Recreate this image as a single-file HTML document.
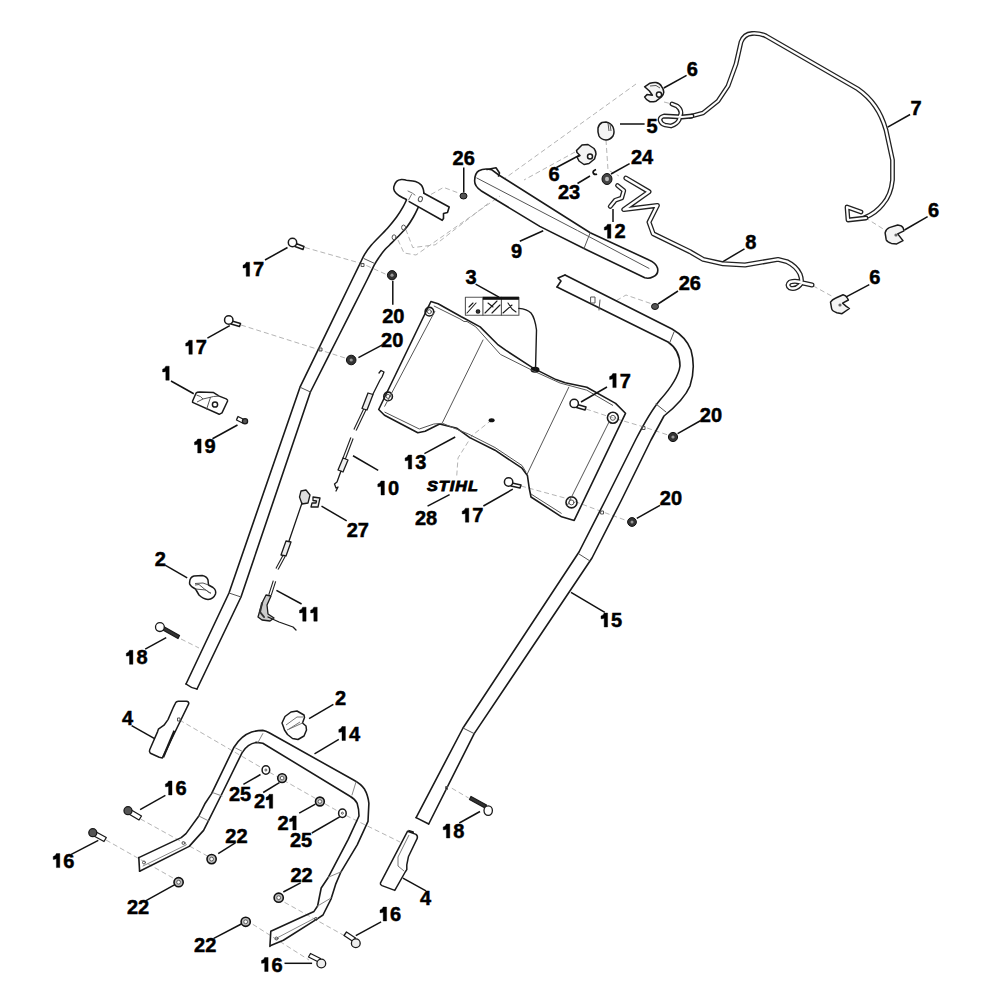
<!DOCTYPE html>
<html><head><meta charset="utf-8"><style>
html,body{margin:0;padding:0;background:#fff;width:1000px;height:1000px;overflow:hidden}
svg{position:absolute;left:0;top:0}
text{font-family:"Liberation Sans",sans-serif;font-weight:bold;font-size:20px;fill:#000;stroke:#000;stroke-width:0.5}
.l{stroke:#1a1a1a;stroke-width:1.6;fill:none;stroke-linecap:round;stroke-linejoin:round}
.t{stroke:#555;stroke-width:1;fill:none}
.ld{stroke:#111;stroke-width:1.5;fill:none}
.d{stroke:#b5b5b5;stroke-width:1;fill:none;stroke-dasharray:5 3}
.f{stroke:#1a1a1a;stroke-width:1.5;fill:#fff;stroke-linejoin:round}
.n{fill:#333;stroke:#111;stroke-width:1}
</style></head><body>
<svg width="1000" height="1000" viewBox="0 0 1000 1000">
<!-- DASHED PHANTOM LINES -->
<g id="dash" class="d">
<path d="M305 247.5L362.5 263.75L387.5 275"/>
<path d="M241 325L320 350L347.5 358.75"/>
<path d="M246 422L236 418"/>
<path d="M658 306L626 295L614 302"/>
<path d="M586 409L610 417L644 427L668 435"/>
<path d="M521 486L567 498.6L600.8 511.2L631.6 522.4"/>
<path d="M181 639L199 648"/>
<path d="M179.5 720L262 768L342 813.5L400 842"/>
<path d="M140.5 819L211 858"/>
<path d="M106 840L180 882"/>
<path d="M246 920L309 960"/>
<path d="M277.5 898.4L345 936"/>
<path d="M451.8 788.2L468.6 798"/>
<path d="M865 217.5L888 232"/>
<path d="M813 285.8L833 296.8"/>
<path d="M664 102L672 104"/>
<path d="M491.6 420L472 435.6L458 458L456.6 477.6"/>
<path d="M636 84L504.8 178.4"/>
<path d="M575 152L524 180"/>
<path d="M606 140L608 170L619 176"/>
<path d="M431 194.4L443.6 187.4L460.4 193.7"/>
<path d="M405.8 229.4L412.8 247.6L435.2 244.8L490 202"/>
<path d="M398 240L404 253L416 255L500 196"/>

</g>
<!-- LEFT HANDLE -->
<g class="l">
<path d="M406.4 199.5C405.1 198.8 400.7 196.7 398.7 195.3C396.7 193.9 395.3 192.5 394.5 191.1C393.7 189.7 393.4 188.5 393.8 186.9C394.2 185.3 395.3 182.5 396.6 181.3C397.9 180.1 399.9 179.7 401.5 179.5C403.1 179.3 404.1 179.8 406.4 180.2C408.7 180.5 413.1 180.8 415.5 181.6C417.9 182.4 419.8 183.6 421.1 184.8C422.4 186.0 422.7 187.6 423.2 189.0C423.7 190.4 423.8 192.5 423.9 193.2"/>
<path d="M423.9 193.2L449.2 207L447.5 212.5L443.5 213.5L443.5 218.5L442.2 220.3L409.2 201.6"/>
<path d="M408 191Q413 193 415 195M411.5 194.5L408.6 200" class="t" style="stroke:#777"/>
<path d="M406.4 200.2C405.8 201.4 404.5 204.4 402.9 207.2C401.3 210.0 399.2 213.5 396.6 217.0C394.0 220.5 391.7 223.5 387.5 228.2C383.3 232.9 375.2 240.6 371.4 245.0C367.6 249.4 366.5 251.2 364.6 254.4C362.7 257.6 361.9 259.7 359.8 264.0C357.7 268.3 357.6 268.4 352.0 280.0C346.4 291.6 334.7 315.7 326.0 333.6C317.3 351.5 304.3 378.3 300.0 387.2L229 593L186 684"/>
<path d="M418.3 207.2C417.5 208.8 415.3 213.7 413.4 217.0C411.5 220.3 409.4 223.8 407.1 226.8C404.8 229.8 402.3 232.2 399.4 235.2C396.5 238.2 392.0 242.6 389.6 245.0C387.2 247.4 386.8 247.5 385.0 249.6C383.2 251.7 380.8 254.8 379.0 257.4C377.2 260.0 376.2 261.4 374.2 265.2C372.2 269.0 372.9 268.2 367.0 280.0C361.1 291.8 348.1 317.3 338.7 336.0C329.3 354.7 315.1 382.7 310.4 392.0L241 597L197 689"/>
<path d="M186 684Q191 688 197 689"/>
<path d="M364 258.6L374.5 263.4M300 387.2L310.4 392M229 593L241 597" class="t"/>
<ellipse cx="420.4" cy="199.1" rx="2" ry="2.6" class="t" transform="rotate(20 420.4 199.1)"/>
<ellipse cx="403.6" cy="227.5" rx="2" ry="2.5" class="t"/>
<ellipse cx="394.1" cy="237.3" rx="2" ry="2.5" class="t"/>
<rect x="361.5" y="263.5" width="2.5" height="3" class="t"/>
<rect x="319.5" y="348" width="2.5" height="3" class="t"/>
</g>
<!-- RIGHT HANDLE 15 -->
<g class="l">
<path d="M565 275L558 278L561 281L557 287"/>
<path d="M565 275L672 329Q686 337 691 350Q696 368 690 386Q684 400 664 416L651 440L621.5 500L592 558L474.2 733.6L428.7 824"/>
<path d="M557 287L668 342Q680 350 680 366Q678 380 660 400Q650 412 635.5 440L605.5 500L579 552L463 728L416.1 817.6"/>
<path d="M416.1 817.6L428.7 824"/>
<path d="M600 300L599 310M674 332L670 342M656 404L666 412M579 554L590 561M463 728L474.2 733.6" class="t"/><rect x="601" y="511" width="2.5" height="3" class="t"/><rect x="642.5" y="426.5" width="2.5" height="3" class="t"/><rect x="446" y="786.5" width="1.5" height="3" class="t"/>
<rect x="591" y="297" width="4" height="6" class="t"/>
</g>
<!-- CROSSBAR 9 -->
<g class="l">
<path d="M478.9 170.75Q484 168 491.5 169.7L498.8 175L590.2 232.7L649 260Q656 263 657.5 268Q659 274 653.2 276.8Q649 279 644.8 277.8L586 249.5L539.8 226.4L481 190.7Q474 186 474.7 180Q475 173 478.9 170.75Z"/>
<path d="M476.8 178L577.6 230.6L649 268.4M590.2 232.7L584 248.5" class="t"/>
<path d="M487 169.5L496 167.8L499.5 173L498.5 176"/>
</g>
<!-- WIRE 7 -->
<g style="fill:none;stroke-linecap:round;stroke-linejoin:round">
<path id="w7" d="M690 116.5L703 113L718 101L728 86L736 64L741 42Q744 34 752 33.5Q760 33 766 36L857.5 88.75Q868 96 875 106Q882 116 886 130L892.5 160L892.5 180Q891 195 883 204Q876 213 865 217.5" stroke="#222" stroke-width="4.8"/>
<path d="M690 116.5L703 113L718 101L728 86L736 64L741 42Q744 34 752 33.5Q760 33 766 36L857.5 88.75Q868 96 875 106Q882 116 886 130L892.5 160L892.5 180Q891 195 883 204Q876 213 865 217.5" stroke="#fff" stroke-width="2.2"/>
<path d="M866 218L848 220L847 207L861 212" stroke="#222" stroke-width="4.8"/>
<path d="M866 218L848 220L847 207L861 212" stroke="#fff" stroke-width="2.2"/>
<path d="M692 116L682 117L664 116Q660 117 660 120Q661 124 665 125L671 126Q677 124 679 120L681 113Q681 109 677 106L672 104" stroke="#222" stroke-width="4.8"/>
<path d="M692 116L682 117L664 116Q660 117 660 120Q661 124 665 125L671 126Q677 124 679 120L681 113Q681 109 677 106L672 104" stroke="#fff" stroke-width="2.2"/>
</g>
<!-- WIRE 8 -->
<g style="fill:none;stroke-linecap:round;stroke-linejoin:round">
<path d="M625.9 178.1L649 191.75L623.8 209.6L657.4 205.4L649 222.2L653.2 233.75L690 251.7L703.2 259.4L723 263.8L745 265L778 259.4L786.8 261.6Q796 266 800 274Q803 282 800 285Q795 290 790 288Q786 285 790 282Q796 280 803 283L812 285" stroke="#222" stroke-width="5"/>
<path d="M625.9 178.1L649 191.75L623.8 209.6L657.4 205.4L649 222.2L653.2 233.75L690 251.7L703.2 259.4L723 263.8L745 265L778 259.4L786.8 261.6Q796 266 800 274Q803 282 800 285Q795 290 790 288Q786 285 790 282Q796 280 803 283L812 285" stroke="#fff" stroke-width="2.4"/>
<path d="M617.5 185.5L623.8 190.7L621.7 198L615.4 200.15L610.2 206.45" stroke="#222" stroke-width="4.8"/>
<path d="M617.5 185.5L623.8 190.7L621.7 198L615.4 200.15L610.2 206.45" stroke="#fff" stroke-width="2.2"/>
</g>
<!-- SMALL PARTS TOP -->
<g class="f">
<path d="M644.6 86.8L650 83.2Q653 82.4 656 82.6Q660 83.5 661.4 86.2Q663.8 89 663.8 92.2Q663.5 95 661.4 97L656 101.2Q653 102 650 101.8Q646 100 644.6 97L647 94.6L652.4 95.2L649.4 91Z" fill="#f4f4f4"/>
<circle cx="659" cy="94.6" r="2.6"/><path d="M650 86L656 85.5L660 88" class="t"/>
<path d="M598 128Q599 124 602 122.5L606 122Q611 123 613 127Q615 132 613 136Q610 140 606 140Q601 139.5 599 136Q597.5 132 598 128Z" fill="#f4f4f4"/><path d="M608 123L609 131M610 124L611 131" class="t"/>
<path d="M576.5 150.5L582 145L588 144.5L594 148.5Q596 151 596 154L594.5 159L589 163.5L584 164.5L579 161L577 157L580 155.5L577 152.5Z" fill="#f4f4f4"/>
<circle cx="590" cy="156.5" r="2.5"/>
<path d="M885.1 232.9Q886 229 889.3 227.6L897.7 225Q902 225.5 903 227.6L904 230.8L897.7 233.9L901.4 238.6L903 240.7L896.7 243.9L891.4 243.4Q887 242 886.2 239.7Z" fill="#f4f4f4"/><circle cx="896" cy="235" r="1.6" fill="#666" stroke="none"/>
<path d="M830.5 302.2Q832 299.5 835.8 298L843.1 294.8Q846 295.5 847.3 298L848.4 300L842.6 303.2L846.3 306.4L849.4 308.5L842 313.7L836.8 312.7Q832 311 831.6 308.5Z" fill="#f4f4f4"/><circle cx="840" cy="305" r="1.6" fill="#666" stroke="none"/>
</g>
<ellipse cx="607" cy="179" rx="5" ry="5.5" fill="#444" stroke="#111" stroke-width="1"/>
<ellipse cx="607" cy="179" rx="2" ry="2.3" fill="#bbb"/>
<path d="M596 169.5Q592 171 593.5 173.5Q595 175 597 174" stroke="#111" stroke-width="1.8" fill="none"/>
<ellipse cx="463.5" cy="196" rx="3.5" ry="3" fill="#555" stroke="#111"/>
<ellipse cx="655" cy="306.5" rx="3.5" ry="3" fill="#555" stroke="#111"/>
<!-- PANEL 13 -->
<g class="l">
<path d="M430.9 301.5L438.1 303.7L461.3 316.7L464.2 318.2L480.1 326.9L497.5 344.3L505.6 350.2L533.6 368.4L556 379.6L565.2 382.7L586.8 387.2L615.6 403.4L625.5 413.3L574.2 520.4L561.6 516.8L531 497L529.2 488L527.4 475.4L522 468.2L495 450.2L469.8 437.6L457 428.3L439.6 424L425.1 431.2L417.8 432.7L384.5 415.3L378.7 409.5Z"/>
<path d="M483 340L442.5 422.5M568.8 387.2L527.4 473.6" class="t"/>
<circle cx="429.4" cy="311.7" r="4.3"/><circle cx="388.1" cy="396.4" r="4.3"/><circle cx="612.9" cy="417.8" r="5.5"/><circle cx="571.5" cy="502.4" r="5.5"/><circle cx="429.4" cy="311.7" r="2" class="t"/><circle cx="388.1" cy="396.4" r="2" class="t"/><circle cx="612.9" cy="417.8" r="2.5" class="t"/><circle cx="571.5" cy="502.4" r="2.5" class="t"/>
</g>
<ellipse cx="491.6" cy="420.2" rx="3" ry="2" fill="#111"/>
<ellipse cx="535" cy="369.8" rx="4.5" ry="3" fill="#111"/>
<!-- decal 3 -->
<g class="l" style="stroke-width:1.1">
<rect x="465.4" y="297.2" width="53.5" height="18" fill="#fff" stroke="#555"/>
<path d="M482.9 297.2V315.2M501.4 297.2V315.2" stroke="#555"/>
<rect x="482.9" y="296.8" width="36" height="3" fill="#111" stroke="none"/>
<path d="M467 313L476 303M469 307L473 303M485 313L497 301M492 313L500 305M488 303L493 307M503 313L512 305M508 303L512 309L516 312"/>
<circle cx="478" cy="311.5" r="1.8" fill="#333"/>
</g>
<path d="M518.9 308.4Q527 309 531 313Q535 318 536.5 330L535.5 370" class="l" style="stroke-width:1.4"/>
<!-- panel inset lines -->
<g class="t" style="stroke:#555">
<path d="M435 311L384.5 406.6"/>
<path d="M384.5 412L419.3 429L433.8 424L442.5 423.3L468.6 434.1L495 447.5L522 465.5L526 472"/>
<path d="M531 494L561.6 513.5"/>
<path d="M433.8 305.9L459.9 318.9L464 321.5L467 321.5L475.8 326.9L500.4 354.4L533.6 371L560 383L586.8 390.2L613 405.5"/>
<path d="M609.3 421.4L567 506"/>
</g>
<!-- HANDLE 14 -->
<g class="l">
<path d="M138.8 857.6L181.2 837.6L186 833.6L198.8 816L205.2 803.2L211.6 793.6L234 747.2Q238 741 242 737.6Q246 734 251.6 732Q257 730.4 262.8 730.4Q266 731 269.2 732.8L353.6 780Q361 784 364.4 789Q368 795 368.9 803.4L368 821.4L357.2 844.8L341 871.8L335.6 884.4L331.1 898.8L323 915L317.6 918.6L283.4 940.2L270.8 945.6"/>
<path d="M139.6 871.2L189.2 846.4L203.6 830.4L208.4 820.8L222.8 792L242 752.8Q245 748 248.4 745.6Q252 743 256.4 742.4L262.8 743.2L350 796.2Q355 799 357.2 803.4Q359 809 359 816L348.2 839.4L328.4 877.2L321.2 888L317.6 906L314 911.4L270.8 931.2L269.9 946.5"/>
<path d="M138.8 857.6L139.6 871.2"/>
<path d="M213.2 792.8L222 796M198.8 816L208.4 820.8M235.6 748L242 751.2M262.8 733.6L258 742.4M352 795L356 782M341 871.8L328.4 877.2M331 898L317.6 906M143 866L186 845M275 939L315 918" class="t" style="stroke:#888"/>
<circle cx="144" cy="862.5" r="1.5" class="t"/><circle cx="183.5" cy="843" r="1.5" class="t"/>
<circle cx="276.5" cy="938.5" r="1.5" class="t"/><circle cx="316" cy="919" r="1.5" class="t"/>
</g>
<!-- PART 4s -->
<g class="f">
<path d="M175.2 703.6Q176 701.2 178.4 701.2L186.4 701.2Q189 701.5 188.8 703.6L162.4 758L159.2 757.2L150.4 753.2Q149 751.5 149.6 750L157.6 731.6L158.4 729.2L164 725.2L168 719.6L173.6 706.8Z"/>
<path d="M174.4 730.8L163.2 757.2" stroke-width="2.2"/>
<rect x="177.5" y="718" width="2.5" height="3" class="t"/>
<path d="M408.4 830.4L413.2 832L413.2 834M416 834.4Q418 836 417.2 838.4L408.4 856.8L406.8 864.8L406.8 869.6L405.2 872L394.8 890.4L382 885.6Q380 884.5 380.4 883.2L407.6 831.2Z"/>
<path d="M409 835L398 857L398 866L404 871" class="t" style="stroke:#777"/>
</g>
<!-- BOLTS 17 -->
<g class="f">
<path d="M296 243.5L304 246.5L303 249.5L295 246.5Z"/><circle cx="292.5" cy="242.5" r="4.2"/>
<path d="M232 321L240.5 323.5L239.5 326.5L231 324Z"/><circle cx="228.75" cy="320" r="4.2"/>
<path d="M577.5 404.5L586 407L585 410L576.5 407.5Z"/><circle cx="574.2" cy="403.4" r="4.2"/>
<path d="M512 483L521 485L520 488L511 486Z"/><circle cx="508.6" cy="482" r="4.2"/>
</g>
<!-- NUTS 20 (dark) -->
<g class="n">
<circle cx="392" cy="275.2" r="4.6"/><circle cx="351.2" cy="360" r="4.8"/><circle cx="673" cy="437" r="4.6"/><circle cx="632" cy="522" r="4.4"/>
</g>
<g fill="#999">
<circle cx="392" cy="275.2" r="1.6"/><circle cx="351.2" cy="360" r="1.6"/><circle cx="673" cy="437" r="1.6"/><circle cx="632" cy="522" r="1.5"/>
</g>
<!-- NUTS 21/22 -->
<g fill="#bbb" stroke="#111" stroke-width="1.6">
<circle cx="282.1" cy="778.1" r="4.4"/><circle cx="319.9" cy="801.5" r="4.4"/>
<circle cx="211.6" cy="859.1" r="4.6"/><circle cx="178.6" cy="882.2" r="4.6"/><circle cx="278.7" cy="897.7" r="4.6"/><circle cx="245.7" cy="921.8" r="4.6"/>
</g>
<g fill="#fff" stroke="#444" stroke-width="0.8">
<circle cx="282.1" cy="778.1" r="1.8"/><circle cx="319.9" cy="801.5" r="1.8"/>
<circle cx="211.6" cy="859.1" r="1.9"/><circle cx="178.6" cy="882.2" r="1.9"/><circle cx="278.7" cy="897.7" r="1.9"/><circle cx="245.7" cy="921.8" r="1.9"/>
</g>
<g class="f">
<ellipse cx="265.9" cy="770" rx="3.8" ry="4.2"/><ellipse cx="342.4" cy="813.2" rx="3.8" ry="4.2"/>
<circle cx="265.9" cy="770" r="1" class="t"/><circle cx="342.4" cy="813.2" r="1" class="t"/>
</g>
<!-- BOLTS 16 / 18 / 19 -->
<g class="f" style="stroke-width:1.3">
<path d="M130.5 809.5L141.5 816L139 820L128 813.5Z"/><circle cx="128" cy="810.7" r="4" fill="#555"/>
<path d="M95.3 831.5L106.3 837.5L104 841.5L93 835.5Z"/><circle cx="92.8" cy="832.7" r="4" fill="#555"/>
<path d="M353 941.5L344 935.5L346.5 932L355.5 938Z"/><circle cx="355.8" cy="943.2" r="4.4" fill="#eee"/>
<path d="M318.5 962L308.5 957L310.5 953.5L320.5 958.5Z"/><circle cx="321.3" cy="963.5" r="4.4" fill="#eee"/>
<path d="M163.5 626.5L179.5 635.5L178 638.5L162 629.5Z" fill="#333"/><circle cx="159.9" cy="627.1" r="4.4"/>
<path d="M485 808L469.5 799.5L471 796.5L486.5 805Z" fill="#333"/><ellipse cx="488.2" cy="810.6" rx="4.2" ry="4.8"/>
<path d="M238 416.5L244 419.5L242.5 423L236.5 420Z"/><circle cx="245" cy="421.3" r="2.6" fill="#555"/>
</g>
<!-- PART 1 -->
<g class="f">
<path d="M192.6 401L196.1 393Q197 391.9 199.6 391.9L213.6 392.6L219.2 396.1L226.2 398.9Q228 400 227.6 401L222 412.9L219.2 414.3L192.6 402.4Z"/>
<path d="M196.5 395Q201 396 203 399L197 402M203 399L213.6 396.5L219.2 396.1M210.6 397L206.5 409.5" class="t"/>
<circle cx="215" cy="404.5" r="2.6"/>
</g>
<!-- CLIP 2 left / knob 2 -->
<g class="f">
<path d="M282 723L285 716.5L291 712L297 711L304 715L304.5 717.5L302.5 723L306 726L306.5 730L304 736L298 739.5L292.5 738.5L287.5 734.5L284.5 730L283.5 727Z"/>
<path d="M286 725L297 717L303 717M289 729L300 722M287 730L302.5 723" class="t" style="stroke:#777"/>
</g>
<!-- CABLES 10, 27, 11 -->
<g style="fill:none;stroke-linecap:butt;stroke-linejoin:round">
<path d="M365 409L355 430M352 438L344 459M274.5 581L270 595M284 556L277 569" stroke="#222" stroke-width="3.6"/>
<path d="M365 409L355 430M352 438L344 459M274.5 581L270 595M284 556L277 569" stroke="#fff" stroke-width="1.4"/>
</g>
<g class="l" style="stroke-width:1.3">
<path d="M372 396L380 380L382 377L384 372L381 370.5L379 373"/>
<path d="M368 393L373 394.5L367 410L362 408.5Z" fill="#eee"/>
<path d="M343 458L348 460L343 472L338 470Z" fill="#eee"/>
<path d="M341 471L337 482L334.5 484L336 488L338 487L336 491"/>
<path d="M301 491L306 490L310 495L308 503L302 504L299.5 497Z" fill="#ddd"/>
<path d="M313 497L320 498L318 507L311 507L312 503L316 503L316.5 501L313 500.5Z" fill="#eee"/>
<path d="M302 503L289 541"/>
<path d="M286 541L291 542L286 556L281 555Z" fill="#eee"/>

<path d="M266 595L263 601L260 610L258 617L262 620L270 621L274 618L268 614L267 605L271 596Z" fill="#ccc"/><path d="M262 603L260 612L264 617" stroke="#333" stroke-width="2"/>
<path d="M268 617L279 622L293 627L296 630"/>
</g>
<g class="f">
<path d="M189.6 582Q190 577 194 576L202.2 575.5Q207 576.5 208 580L208.5 585L213 587.5Q216.5 590 215.5 594Q213.5 599 208 599.5Q203 599 199 595L195.5 589Q191 587 189.6 584Z"/><path d="M195.5 589L206 590Q208.5 592.5 211 593" class="t"/><path d="M195 583.5L203 583L208.5 585" class="t"/>
<path d="M195 585L199 584.5L205 589.5L210.6 593.5" class="t"/>
</g>
<!-- STIHL -->
<text x="427" y="491" textLength="52" lengthAdjust="spacingAndGlyphs" style="font-style:italic;font-size:15px;font-weight:bold;stroke:#000;stroke-width:0.9;letter-spacing:1px">STIHL</text>
<!-- LABELS -->
<g id="labels">
<text x="253.12" y="276.3">7</text>
<text x="195.82" y="354.3">7</text>
<text x="382.20" y="323.4">2</text>
<text x="393.32" y="323.4">0</text>
<text x="381.10" y="346.5">2</text>
<text x="392.22" y="346.5">0</text>
<text x="204.62" y="453.0">9</text>
<text x="452.60" y="165.0">2</text>
<text x="463.72" y="165.0">6</text>
<text x="686.80" y="76.2">6</text>
<text x="646.60" y="132.6">5</text>
<text x="548.50" y="181.0">6</text>
<text x="631.00" y="163.8">2</text>
<text x="642.12" y="163.8">4</text>
<text x="558.00" y="198.5">2</text>
<text x="569.12" y="198.5">3</text>
<text x="614.42" y="238.3">2</text>
<text x="910.50" y="114.5">7</text>
<text x="928.00" y="217.4">6</text>
<text x="511.00" y="257.8">9</text>
<text x="465.50" y="283.8">3</text>
<text x="678.70" y="290.3">2</text>
<text x="689.82" y="290.3">6</text>
<text x="869.30" y="284.0">6</text>
<text x="745.20" y="249.2">8</text>
<text x="619.72" y="387.6">7</text>
<text x="699.80" y="422.0">2</text>
<text x="710.92" y="422.0">0</text>
<text x="415.22" y="469.0">3</text>
<text x="387.92" y="495.0">0</text>
<text x="659.80" y="505.2">2</text>
<text x="670.92" y="505.2">0</text>
<text x="415.00" y="525.4">2</text>
<text x="426.12" y="525.4">8</text>
<text x="472.32" y="522.2">7</text>
<text x="346.70" y="537.0">2</text>
<text x="357.82" y="537.0">7</text>
<text x="154.70" y="565.6">2</text>
<text x="611.12" y="627.0">5</text>
<text x="136.42" y="664.3">8</text>
<text x="335.00" y="704.8">2</text>
<text x="122.00" y="725.2">4</text>
<text x="348.92" y="740.5">4</text>
<text x="175.52" y="795.0">6</text>
<text x="229.00" y="801.0">2</text>
<text x="240.12" y="801.0">5</text>
<text x="254.00" y="808.3">2</text>
<text x="277.50" y="829.9">2</text>
<text x="290.00" y="847.0">2</text>
<text x="301.12" y="847.0">5</text>
<text x="453.32" y="838.0">8</text>
<text x="225.30" y="843.4">2</text>
<text x="236.42" y="843.4">2</text>
<text x="63.32" y="867.6">6</text>
<text x="290.40" y="881.8">2</text>
<text x="301.52" y="881.8">2</text>
<text x="127.00" y="913.8">2</text>
<text x="138.12" y="913.8">2</text>
<text x="420.00" y="904.8">4</text>
<text x="390.12" y="921.0">6</text>
<text x="194.10" y="952.3">2</text>
<text x="205.22" y="952.3">2</text>
<text x="271.62" y="971.5">6</text>
</g>
<g id="ones" fill="#000" stroke="#000" stroke-width="0.4"><path d="M246.20 262.30H249.60V276.30H246.20V267.50Q244.50 268.10 243.00 268.10V265.30Q245.60 264.70 246.20 262.30Z"/><path d="M188.90 340.30H192.30V354.30H188.90V345.50Q187.20 346.10 185.70 346.10V343.30Q188.30 342.70 188.90 340.30Z"/><path d="M165.80 366.20H169.20V380.20H165.80V371.40Q164.10 372.00 162.60 372.00V369.20Q165.20 368.60 165.80 366.20Z"/><path d="M197.70 439.00H201.10V453.00H197.70V444.20Q196.00 444.80 194.50 444.80V442.00Q197.10 441.40 197.70 439.00Z"/><path d="M607.50 224.30H610.90V238.30H607.50V229.50Q605.80 230.10 604.30 230.10V227.30Q606.90 226.70 607.50 224.30Z"/><path d="M612.80 373.60H616.20V387.60H612.80V378.80Q611.10 379.40 609.60 379.40V376.60Q612.20 376.00 612.80 373.60Z"/><path d="M408.30 455.00H411.70V469.00H408.30V460.20Q406.60 460.80 405.10 460.80V458.00Q407.70 457.40 408.30 455.00Z"/><path d="M381.00 481.00H384.40V495.00H381.00V486.20Q379.30 486.80 377.80 486.80V484.00Q380.40 483.40 381.00 481.00Z"/><path d="M465.40 508.20H468.80V522.20H465.40V513.40Q463.70 514.00 462.20 514.00V511.20Q464.80 510.60 465.40 508.20Z"/><path d="M302.70 607.20H306.10V621.20H302.70V612.40Q301.00 613.00 299.50 613.00V610.20Q302.10 609.60 302.70 607.20Z"/><path d="M313.82 607.20H317.22V621.20H313.82V612.40Q312.12 613.00 310.62 613.00V610.20Q313.22 609.60 313.82 607.20Z"/><path d="M604.20 613.00H607.60V627.00H604.20V618.20Q602.50 618.80 601.00 618.80V616.00Q603.60 615.40 604.20 613.00Z"/><path d="M129.50 650.30H132.90V664.30H129.50V655.50Q127.80 656.10 126.30 656.10V653.30Q128.90 652.70 129.50 650.30Z"/><path d="M342.00 726.50H345.40V740.50H342.00V731.70Q340.30 732.30 338.80 732.30V729.50Q341.40 728.90 342.00 726.50Z"/><path d="M168.60 781.00H172.00V795.00H168.60V786.20Q166.90 786.80 165.40 786.80V784.00Q168.00 783.40 168.60 781.00Z"/><path d="M269.32 794.30H272.72V808.30H269.32V799.50Q267.62 800.10 266.12 800.10V797.30Q268.72 796.70 269.32 794.30Z"/><path d="M292.82 815.90H296.22V829.90H292.82V821.10Q291.12 821.70 289.62 821.70V818.90Q292.22 818.30 292.82 815.90Z"/><path d="M446.40 824.00H449.80V838.00H446.40V829.20Q444.70 829.80 443.20 829.80V827.00Q445.80 826.40 446.40 824.00Z"/><path d="M56.40 853.60H59.80V867.60H56.40V858.80Q54.70 859.40 53.20 859.40V856.60Q55.80 856.00 56.40 853.60Z"/><path d="M383.20 907.00H386.60V921.00H383.20V912.20Q381.50 912.80 380.00 912.80V910.00Q382.60 909.40 383.20 907.00Z"/><path d="M264.70 957.50H268.10V971.50H264.70V962.70Q263.00 963.30 261.50 963.30V960.50Q264.10 959.90 264.70 957.50Z"/></g>
<g id="leaders" class="ld">
<path d="M265 260L287.5 247.5"/>
<path d="M207.4 338.2L229.8 325.6"/>
<path d="M392.8 280.8L392.8 304.8"/>
<path d="M358.4 357.6L382.4 344.8"/>
<path d="M171 381L193.75 393.75"/>
<path d="M212.5 438.75L237.5 425"/>
<path d="M463.75 167.5L463.75 192.5"/>
<path d="M686.6 75.4L663.8 88"/>
<path d="M620 124L644.6 124"/>
<path d="M579 155.5L556.5 167.5"/>
<path d="M629.6 163.6L611 174"/>
<path d="M590 176L577.5 183.5"/>
<path d="M613 209L613 222"/>
<path d="M910.1 114.5L887.7 127.1"/>
<path d="M927.6 216.7L904.5 230"/>
<path d="M519.8 241.2L543.2 230.8"/>
<path d="M475.6 284.1L499 297.1"/>
<path d="M678 291L658 304"/>
<path d="M869.3 284.7L846.2 296.8"/>
<path d="M744.5 248.8L723 261.6"/>
<path d="M607 387L581 402"/>
<path d="M700.8 420.5L677.6 433.6"/>
<path d="M424.4 453.65L455.2 437"/>
<path d="M353 455.75L378.2 470.45"/>
<path d="M660 505.3L636.8 518.4"/>
<path d="M427.55 506.15L449.6 494.6"/>
<path d="M483.4 506L512.8 489.2"/>
<path d="M321.5 506.15L346.7 520.85"/>
<path d="M165.1 565.2L187.2 577.8"/>
<path d="M276.4 590.4L301.6 604"/>
<path d="M571 592.3L604.8 612.4"/>
<path d="M145.2 649.2L166.2 637.6"/>
<path d="M309.1 718.7L333.4 704.3"/>
<path d="M131.6 725.6L154.6 738.6"/>
<path d="M314.5 753.8L338.8 739.4"/>
<path d="M140.1 809.6L165.4 795.3"/>
<path d="M243.4 784.4L260.5 774.5"/>
<path d="M263.2 792.5L279.4 782.6"/>
<path d="M299.2 813.2L315.4 804.2"/>
<path d="M311.8 833L339.7 816.8"/>
<path d="M459.3 823L480 811.5"/>
<path d="M235.3 842.9L218.2 853.6"/>
<path d="M70.8 854.7L98.3 840.4"/>
<path d="M283.3 892L300.6 882.8"/>
<path d="M145.6 900.9L175.3 884.4"/>
<path d="M402.9 878.2L426 890.8"/>
<path d="M355.8 935.7L381.1 921.9"/>
<path d="M213.8 938.3L241.3 924"/>
<path d="M284.5 963.3L312.1 963.3"/>
</g>
</svg>
</body></html>
